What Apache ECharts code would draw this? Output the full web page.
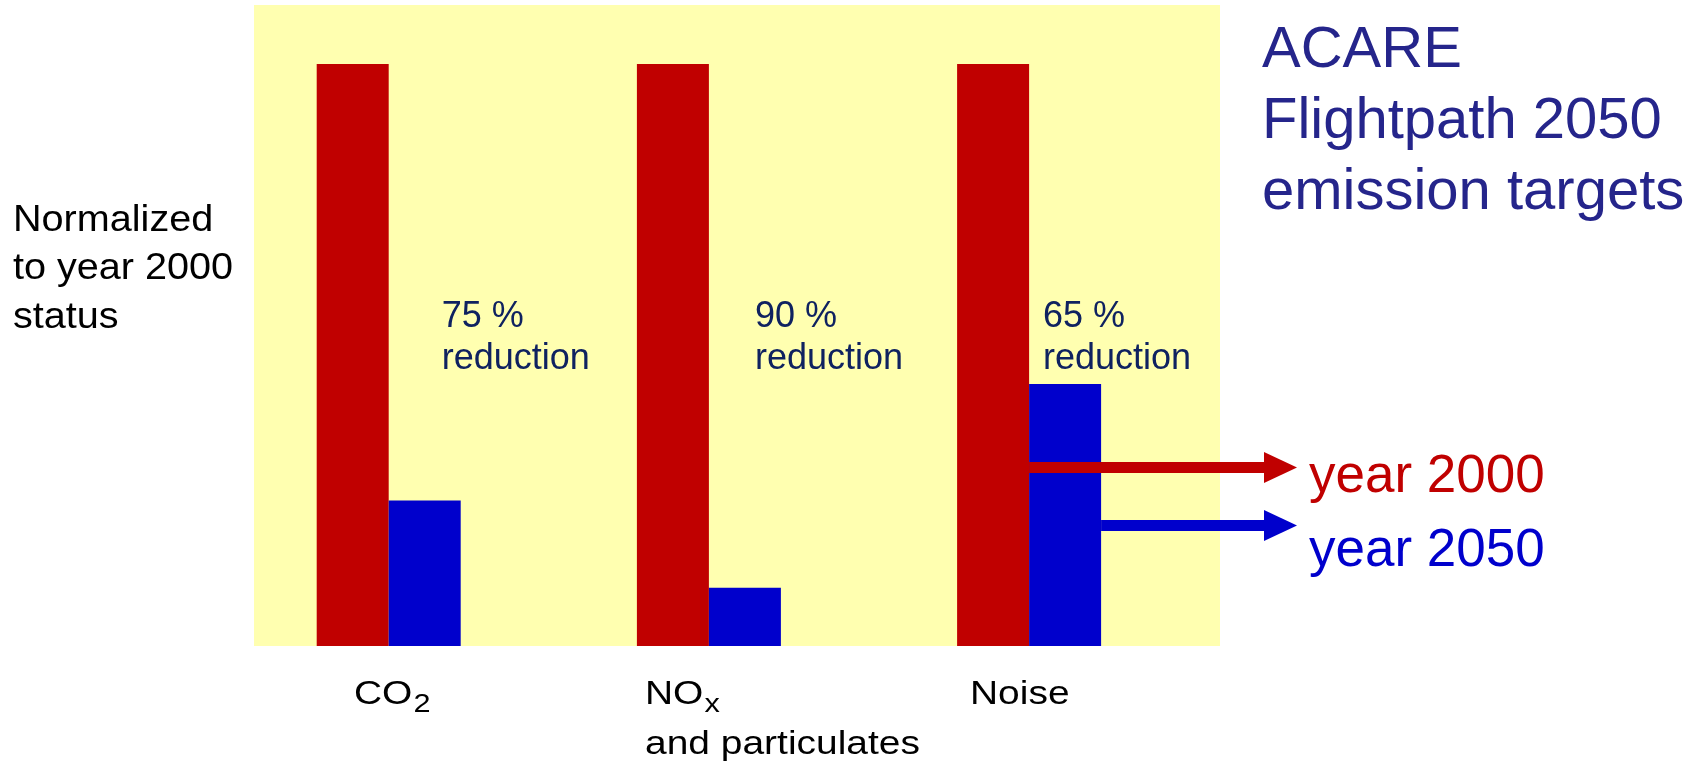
<!DOCTYPE html>
<html><head><meta charset="utf-8">
<script src="https://cdn.jsdelivr.net/npm/echarts@6/dist/echarts.min.js"></script>
<style>html,body{margin:0;padding:0;background:#fff}#c{width:1704px;height:762px}</style>
</head><body><div id="c"></div>
<script>
// ---- data ----
const categories = ['CO2', 'NOx', 'Noise'];
const labelMain = ['CO', 'NO', 'Noise'];
const labelSub = ['2', 'x', ''];
const labelLine2 = ['', 'and particulates', ''];
const seriesNames = ['year 2000', 'year 2050'];
const year2000 = [100, 100, 100];
const year2050 = [25, 10, 45];
const reductionLabels = ['75 %\nreduction', '90 %\nreduction', '65 %\nreduction'];
const titleLines = ['ACARE', 'Flightpath 2050', 'emission targets'];
const yAxisNote = ['Normalized', 'to year 2000', 'status'];

// ---- style / layout ----
const FONT = '"Liberation Sans", Arial, Helvetica, sans-serif';
const RED = '#C00000', BLUE = '#0000CC', PANEL = '#FFFFB0', NAVY = '#0F2260', TITLE = '#25258B';
const BAR_W = 72;
const K = 0.272; // baseline offset below the 'middle' anchor, in em

const chart = echarts.init(document.getElementById('c'), null, {renderer: 'canvas'});
chart.setOption({
  animation: false,
  backgroundColor: '#ffffff',
  grid: {left: 228.6, right: 514.8, top: 64, bottom: 116},
  xAxis: {type: 'category', data: categories, show: false},
  yAxis: {type: 'value', min: 0, max: 100, show: false},
  series: [
    {name: seriesNames[0], type: 'bar', data: year2000, barWidth: BAR_W, barGap: '0%',
     itemStyle: {color: RED}, z: 2},
    {name: seriesNames[1], type: 'bar', data: year2050, barWidth: BAR_W, barGap: '0%',
     itemStyle: {color: BLUE}, z: 3}
  ]
});

const noiseX = chart.convertToPixel({xAxisIndex: 0}, categories[2]);
const bottomY = chart.convertToPixel({yAxisIndex: 0}, 0);

const ctx = document.createElement('canvas').getContext('2d');
function textW(t, size) { ctx.font = size + 'px ' + FONT; return ctx.measureText(t).width; }

const graphics = [];
function addText(t, x, baseline, size, color, scaleX) {
  graphics.push({type: 'text', x: x, y: baseline - K * size, scaleX: scaleX || 1, z: 10,
    style: {text: t, fontSize: size, fontFamily: FONT, fill: color, align: 'left', verticalAlign: 'middle'}});
}

// yellow panel
graphics.push({type: 'rect', z: -10, shape: {x: 254, y: 5, width: 966, height: bottomY - 5},
  style: {fill: PANEL}});

// category labels (with subscripts)
const labelX = [354, 645, 970];
const CAT_SIZE = 33, SUB_SIZE = 26, CAT_SX = 1.18;
labelMain.forEach((t, i) => {
  addText(t, labelX[i], 704, CAT_SIZE, '#000', CAT_SX);
  if (labelSub[i]) {
    const sx = labelX[i] + textW(t, CAT_SIZE) * CAT_SX + 1;
    addText(labelSub[i], sx, 711.5, SUB_SIZE, '#000', CAT_SX);
  }
  if (labelLine2[i]) addText(labelLine2[i], labelX[i], 754, CAT_SIZE, '#000', CAT_SX);
});

// reduction labels
const reductionX = [441.7, 755, 1043];
reductionLabels.forEach((t, i) => {
  t.split('\n').forEach((line, j) => addText(line, reductionX[i], 327 + j * 41.5, 36, NAVY, 1));
});

// left note
yAxisNote.forEach((line, j) => addText(line, 13, 230.7 + j * 48.5, 37, '#000', 1.07));

// title
titleLines.forEach((line, j) => addText(line, 1262, 67 + j * 71, 58, TITLE, 1));

// arrows from the Noise bars to the series names
const arrowEnd = 1265, tip = 1297;
const arrows = [
  {x0: noiseX, y: 467.5, color: RED},
  {x0: noiseX + BAR_W, y: 525.5, color: BLUE}
];
arrows.forEach(a => {
  graphics.push({type: 'rect', z: 20, shape: {x: a.x0, y: a.y - 5.5, width: arrowEnd - a.x0, height: 11},
    style: {fill: a.color}});
  graphics.push({type: 'polygon', z: 20,
    shape: {points: [[arrowEnd - 1, a.y - 15.5], [tip, a.y], [arrowEnd - 1, a.y + 15.5]]},
    style: {fill: a.color}});
});

// series names
addText(seriesNames[0], 1309, 491.7, 53, RED, 1);
addText(seriesNames[1], 1309, 566, 53, BLUE, 1);

chart.setOption({graphic: graphics});
</script>
</body></html>
